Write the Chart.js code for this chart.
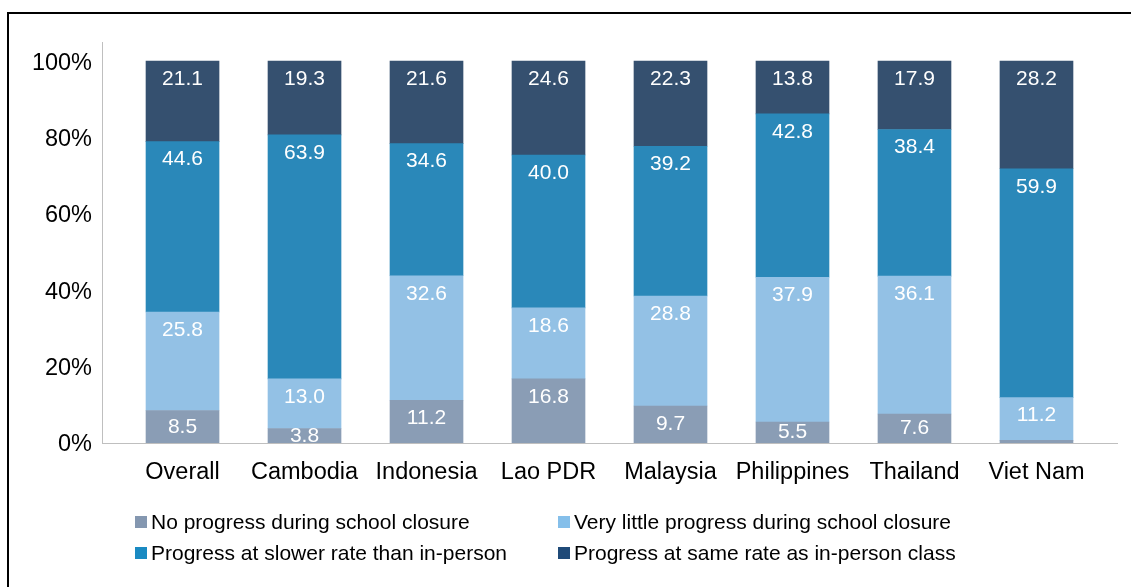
<!DOCTYPE html>
<html>
<head>
<meta charset="utf-8">
<script src="https://cdn.jsdelivr.net/npm/chart.js@4.4.1/dist/chart.umd.min.js"></script>
<style>
  html, body { margin: 0; padding: 0; width: 1131px; height: 587px; overflow: hidden; background: #fff; }
  #frame { position: absolute; left: 7px; top: 12px; width: 1300px; height: 800px; border: 2px solid #000; box-sizing: border-box; }
  #c { position: absolute; left: 0; top: 0; }
  .leg { position: absolute; font-family: "Liberation Sans", Arial, sans-serif; font-size: 21px; color: #000; white-space: nowrap; line-height: 24px; }
  .leg span.box { display: inline-block; width: 12px; height: 12px; margin-right: 4px; vertical-align: 1px; }
</style>
</head>
<body>
<div id="frame"></div>
<canvas id="c" width="1131" height="587"></canvas>
<div id="legend"></div>
<script>
const categories = ["Overall", "Cambodia", "Indonesia", "Lao PDR", "Malaysia", "Philippines", "Thailand", "Viet Nam"];
const noProgress = [8.5, 3.8, 11.2, 16.8, 9.7, 5.5, 7.6, 0.7];
const veryLittle = [25.8, 13.0, 32.6, 18.6, 28.8, 37.9, 36.1, 11.2];
const slowerRate = [44.6, 63.9, 34.6, 40.0, 39.2, 42.8, 38.4, 59.9];
const sameRate = [21.1, 19.3, 21.6, 24.6, 22.3, 13.8, 17.9, 28.2];
const seriesNames = [
  "No progress during school closure",
  "Very little progress during school closure",
  "Progress at slower rate than in-person",
  "Progress at same rate as in-person class"
];
const yTicks = [0, 20, 40, 60, 80, 100];

const barColors = ["#8A9DB5", "#93C1E5", "#2A88B9", "#35506F"];
const legendColors = ["#8497B0", "#85BFEA", "#1A8AC2", "#1F4A78"];
const FONT = '"Liberation Sans", Arial, sans-serif';

const series = [noProgress, veryLittle, slowerRate, sameRate];
const datasets = series.map((vals, s) => ({
  label: seriesNames[s],
  data: vals.map((v, i) => ({ x: i, y: v })),
  backgroundColor: barColors[s],
  borderWidth: 0,
  barThickness: 73
}));

const labelPlugin = {
  id: 'segLabels',
  afterDatasetsDraw(chart) {
    const ctx = chart.ctx;
    ctx.save();
    ctx.font = '21px ' + FONT;
    ctx.fillStyle = '#fff';
    ctx.textAlign = 'center';
    ctx.textBaseline = 'middle';
    chart.data.datasets.forEach((ds, di) => {
      const meta = chart.getDatasetMeta(di);
      meta.data.forEach((el, i) => {
        const v = ds.data[i].y;
        if (v < 1) return;
        const top = Math.min(el.y, el.base);
        const h = Math.abs(el.base - el.y);
        const cy = top + Math.min(18, h / 2);
        ctx.fillText(v.toFixed(1), el.x, cy);
      });
    });
    ctx.restore();
  }
};

new Chart(document.getElementById('c'), {
  type: 'bar',
  data: { datasets },
  options: {
    responsive: false,
    animation: false,
    layout: { padding: { top: 42, right: 14, left: 0, bottom: 0 } },
    plugins: { legend: { display: false }, tooltip: { enabled: false } },
    scales: {
      x: {
        type: 'linear',
        offset: false,
        stacked: true,
        min: -0.66,
        max: 7.66,
        grid: { display: false, drawTicks: false, offset: false },
        border: { display: true, color: '#BFBFBF', width: 1 },
        afterBuildTicks: (scale) => { scale.ticks = categories.map((_, i) => ({ value: i })); },
        afterFit: (scale) => { scale.height = 587 - 443; },
        ticks: {
          autoSkip: false, maxRotation: 0, padding: 15,
          color: '#000', font: { family: FONT, size: 23.5 },
          callback: (v) => categories[v]
        }
      },
      y: {
        stacked: true,
        min: 0,
        max: 105,
        grid: { display: false, drawTicks: false },
        border: { display: true, color: '#BFBFBF', width: 1 },
        afterBuildTicks: (scale) => { scale.ticks = yTicks.map(v => ({ value: v })); },
        afterFit: (scale) => { scale.width = 102; },
        ticks: {
          padding: 10, labelOffset: 2,
          color: '#000', font: { family: FONT, size: 23.5 },
          callback: (v) => v + '%'
        }
      }
    }
  },
  plugins: [labelPlugin]
});

// legend (2 x 2 grid)
const legPos = [[135, 510], [558, 510], [135, 541], [558, 541]];
const legEl = document.getElementById('legend');
seriesNames.forEach((name, s) => {
  const d = document.createElement('div');
  d.className = 'leg';
  d.style.left = legPos[s][0] + 'px';
  d.style.top = legPos[s][1] + 'px';
  d.innerHTML = '<span class="box" style="background:' + legendColors[s] + '"></span>' + name;
  legEl.appendChild(d);
});
</script>
</body>
</html>
